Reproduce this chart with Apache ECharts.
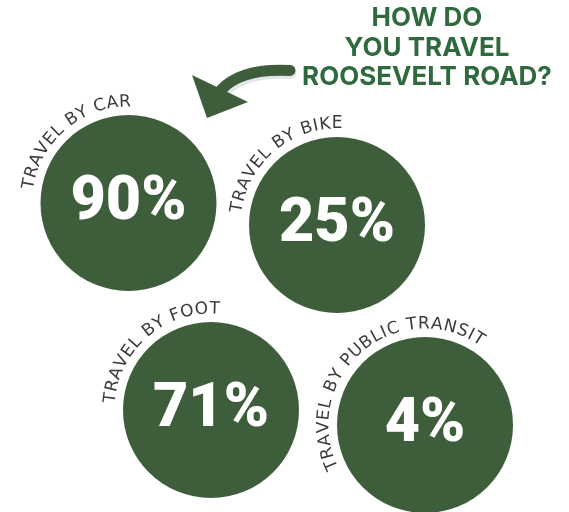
<!DOCTYPE html>
<html>
<head>
<meta charset="utf-8">
<script src="https://cdn.jsdelivr.net/npm/echarts@6/dist/echarts.min.js"></script>
<style>html,body{margin:0;padding:0;background:#fff;}#c{width:569px;height:512px;}</style>
</head>
<body>
<div id="c"></div>
<script>
// ---- data ----
const categories = ['TRAVEL BY CAR', 'TRAVEL BY BIKE', 'TRAVEL BY FOOT', 'TRAVEL BY PUBLIC TRANSIT'];
const shares = [90, 25, 71, 4];
const titleLines = ['HOW DO', 'YOU TRAVEL', 'ROOSEVELT ROAD?'];

// ---- layout (positions in a 569x512 canvas space, styling) ----
const slotX = [128.5, 337, 211, 425];
const slotY = [203, 225, 410, 425];
const arcStart = [-79, -80, -83, -113];   // compass degrees of first glyph centre
const arcEnd = [-2, 0, 2, 32];            // compass degrees of last glyph centre
const R = 88, RC = 101;
const GREEN = '#3e5e3b', TITLE = '#2f6a3e', GREY = '#3b3b3b';
const LABEL_FONT = '17px "DejaVu Sans"';

const mctx = document.createElement('canvas').getContext('2d');
mctx.font = LABEL_FONT;

function arcText(label, cx, cy, a0, a1) {
  const chars = label.split('');
  const w = chars.map(c => mctx.measureText(c).width);
  const n = chars.length;
  const L = (a1 - a0) * Math.PI / 180 * RC;
  let base = w[0] / 2 + w[n - 1] / 2;
  for (let k = 1; k < n - 1; k++) base += w[k];
  const sp = (L - base) / (n - 1);
  const out = [];
  let s = 0;
  for (let k = 0; k < n; k++) {
    if (k > 0) s += w[k - 1] / 2 + sp + w[k] / 2;
    const th = a0 * Math.PI / 180 + s / RC;
    out.push({
      type: 'text',
      x: cx + RC * Math.sin(th),
      y: cy - RC * Math.cos(th),
      rotation: -th,
      style: { text: chars[k], font: LABEL_FONT, fill: GREY, align: 'center', verticalAlign: 'middle' }
    });
  }
  return out;
}

const chart = echarts.init(document.getElementById('c'), null, { renderer: 'canvas' });
chart.setOption({
  animation: false,
  grid: { left: 0, right: 0, top: 0, bottom: 0 },
  xAxis: { type: 'value', min: 0, max: 569, show: false },
  yAxis: { type: 'value', min: 0, max: 512, inverse: true, show: false },
  graphic: [
    { type: 'bezierCurve', shape: { x1: 291, y1: 73.5, cpx1: 243, cpy1: 71, x2: 224, y2: 93 }, style: { stroke: '#e3e7ea', lineWidth: 11, fill: null, lineCap: 'round' } },
    { type: 'bezierCurve', shape: { x1: 290, y1: 70.5, cpx1: 241, cpy1: 68, x2: 221, y2: 90 }, style: { stroke: GREEN, lineWidth: 11, fill: null, lineCap: 'round' } },
    { type: 'polygon', shape: { points: [[192, 75], [248, 102], [207, 118]] }, style: { fill: GREEN } },
    ...titleLines.map((t, i) => ({
      type: 'text', x: 427, y: [18.5, 48, 77][i],
      style: { text: t, font: '700 26px Inter', fill: TITLE, align: 'center', verticalAlign: 'middle' }
    }))
  ],
  series: [{
    type: 'custom',
    coordinateSystem: 'cartesian2d',
    data: categories.map((c, i) => [slotX[i], slotY[i], shares[i], i]),
    renderItem: function (params, api) {
      const p = api.coord([api.value(0), api.value(1)]);
      const i = api.value(3);
      return {
        type: 'group',
        children: [
          { type: 'circle', shape: { cx: p[0], cy: p[1], r: R }, style: { fill: GREEN } },
          { type: 'text', x: p[0], y: p[1] + 1, style: { text: api.value(2) + '%', font: '900 61px Roboto', fill: '#fff', align: 'center', verticalAlign: 'middle' } },
          ...arcText(categories[i], p[0], p[1], arcStart[i], arcEnd[i])
        ]
      };
    }
  }]
});
</script>
</body>
</html>
